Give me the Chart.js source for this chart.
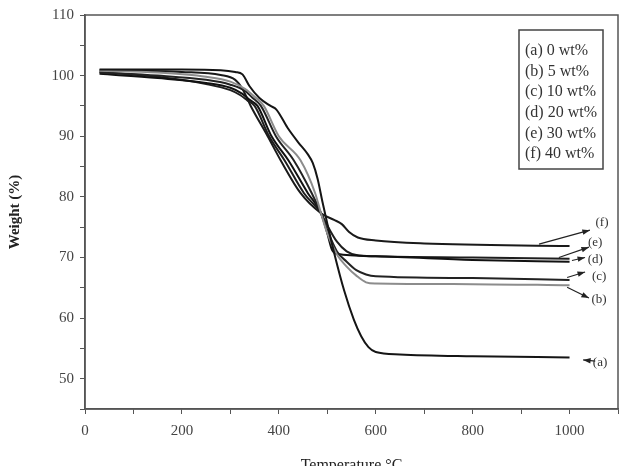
<!DOCTYPE html>
<html>
<head>
<meta charset="utf-8">
<script src="https://cdn.jsdelivr.net/npm/chart.js@4/dist/chart.umd.min.js"></script>
<style>
  html, body { margin: 0; padding: 0; background: #fff; overflow: hidden; }
  #wrap { width: 626px; height: 478px; position: relative; }
</style>
</head>
<body>
<div id="wrap"><canvas id="tga"></canvas></div>
<script>
// series labels
const labels = ['(a) 0 wt%', '(b) 5 wt%', '(c) 10 wt%', '(d) 20 wt%', '(e) 30 wt%', '(f) 40 wt%'];
const tags = ['(a)', '(b)', '(c)', '(d)', '(e)', '(f)'];

// temperature (°C) / weight (%)
const tempA = [30, 100, 200, 280, 310, 325, 340, 360, 383, 395, 418, 440, 460, 470, 480, 490, 500, 515, 535, 555, 570, 585, 600, 650, 800, 1000];
const wA    = [101.0, 101.0, 101.0, 100.9, 100.6, 100.2, 98.2, 96.3, 95.0, 94.4, 91.4, 89.0, 87.0, 85.6, 83.0, 79.2, 75.6, 70.5, 64.5, 59.7, 57.0, 55.2, 54.4, 54.0, 53.7, 53.5];

const tempB = [30, 150, 250, 300, 330, 350, 369, 400, 445, 475, 487, 500, 520, 540, 560, 580, 600, 800, 1000];
const wB    = [100.8, 100.5, 99.8, 99.0, 97.8, 96.5, 95.0, 90.0, 86.0, 80.6, 77.3, 74.0, 70.5, 68.5, 67.0, 65.9, 65.7, 65.6, 65.4];

const tempC = [30, 150, 250, 300, 330, 345, 363, 394, 431, 468, 487, 500, 520, 540, 560, 580, 600, 800, 1000];
const wC    = [100.5, 100.0, 99.3, 98.5, 97.5, 96.4, 95.0, 90.0, 86.0, 80.6, 77.3, 74.5, 71.0, 69.3, 67.9, 67.2, 66.9, 66.6, 66.3];

const tempD = [30, 150, 250, 300, 325, 340, 356, 385, 420, 460, 487, 500, 510, 520, 600, 800, 1000];
const wD    = [100.3, 99.6, 98.8, 98.0, 97.0, 96.0, 95.0, 90.0, 86.0, 80.6, 77.3, 74.0, 71.2, 70.6, 70.2, 69.6, 69.3];

const tempE = [30, 150, 250, 300, 320, 335, 350, 380, 412, 452, 487, 500, 520, 540, 560, 600, 800, 1000];
const wE    = [100.6, 99.8, 98.6, 97.6, 96.8, 95.9, 95.0, 90.0, 86.0, 80.6, 77.3, 75.3, 72.6, 71.0, 70.4, 70.2, 70.0, 69.8];

const tempF = [30, 200, 280, 310, 325, 342, 377, 404, 445, 487, 514, 530, 545, 563, 600, 700, 1000];
const wF    = [100.9, 100.6, 100.1, 99.3, 97.8, 95.0, 90.0, 86.0, 80.6, 77.3, 76.2, 75.5, 74.2, 73.3, 72.8, 72.3, 71.9];

const temps = [tempA, tempB, tempC, tempD, tempE, tempF];
const weights = [wA, wB, wC, wD, wE, wF];
const colors = ['#151515', '#8c8c8c', '#222222', '#111111', '#1e1e1e', '#1a1a1a'];

// arrows from curve ends to the (a)...(f) tags, in data units: [tailT, tailW, headT, headW, tagT, tagW]
const arrows = [
  [1053, 52.9, 1028, 53.1, 1063, 52.6],
  [995, 65.1, 1040, 63.3, 1061, 63.0],
  [995, 66.7, 1032, 67.6, 1061, 66.8],
  [1005, 69.5, 1032, 70.0, 1053, 69.7],
  [978, 70.0, 1040, 71.7, 1053, 72.5],
  [937, 72.2, 1042, 74.5, 1067, 75.8]
];

const FONT = '"Liberation Serif", "DejaVu Serif", serif';

const frameAndNotes = {
  id: 'frameAndNotes',
  afterDraw(chart) {
    const { ctx, chartArea: a, scales: { x, y } } = chart;
    ctx.save();
    ctx.strokeStyle = '#555';
    ctx.lineWidth = 1.5;
    ctx.strokeRect(a.left, a.top, a.right - a.left, a.bottom - a.top);

    // legend box
    const bx = a.right - 99, by = a.top + 15, bw = 84, bh = 139;
    ctx.strokeStyle = '#444';
    ctx.lineWidth = 1.5;
    ctx.strokeRect(bx, by, bw, bh);
    ctx.fillStyle = '#333';
    ctx.font = '16px ' + FONT;
    ctx.textBaseline = 'middle';
    ctx.textAlign = 'left';
    labels.forEach((l, i) => ctx.fillText(l, bx + 6, by + 21 + i * 20.6));

    // arrows + tags
    ctx.strokeStyle = '#222';
    ctx.fillStyle = '#222';
    ctx.lineWidth = 1.2;
    ctx.font = '13px ' + FONT;
    arrows.forEach((ar, i) => {
      const x1 = x.getPixelForValue(ar[0]), y1 = y.getPixelForValue(ar[1]);
      const x2 = x.getPixelForValue(ar[2]), y2 = y.getPixelForValue(ar[3]);
      ctx.beginPath();
      ctx.moveTo(x1, y1);
      ctx.lineTo(x2, y2);
      ctx.stroke();
      const ang = Math.atan2(y2 - y1, x2 - x1);
      ctx.beginPath();
      ctx.moveTo(x2, y2);
      ctx.lineTo(x2 - 8 * Math.cos(ang - 0.35), y2 - 8 * Math.sin(ang - 0.35));
      ctx.lineTo(x2 - 8 * Math.cos(ang + 0.35), y2 - 8 * Math.sin(ang + 0.35));
      ctx.closePath();
      ctx.fill();
      ctx.fillStyle = '#333';
      ctx.textAlign = 'center';
      ctx.fillText(tags[i], x.getPixelForValue(ar[4]), y.getPixelForValue(ar[5]));
      ctx.fillStyle = '#222';
    });
    ctx.restore();
  }
};

new Chart(document.getElementById('tga').getContext('2d'), {
  type: 'line',
  data: {
    datasets: labels.map((l, i) => ({
      label: l,
      data: temps[i].map((t, j) => ({ x: t, y: weights[i][j] })),
      borderColor: colors[i],
      borderWidth: 2,
      pointRadius: 0,
      fill: false,
      cubicInterpolationMode: 'monotone'
    }))
  },
  options: {
    responsive: true,
    maintainAspectRatio: false,
    animation: false,
    layout: { padding: { top: 14, right: 8, left: 0, bottom: 0 } },
    plugins: { legend: { display: false }, tooltip: { enabled: false } },
    scales: {
      x: {
        type: 'linear',
        min: 0,
        max: 1100,
        afterFit: s => { s.height = 69; },
        border: { color: '#555', width: 1.5 },
        grid: { drawOnChartArea: false, color: '#555', tickLength: 5 },
        ticks: {
          stepSize: 100,
          padding: 8,
          color: '#444',
          font: { family: FONT, size: 15 },
          maxRotation: 0,
          callback: v => (v % 200 === 0 && v <= 1000) ? String(v) : ''
        },
        title: {
          display: true,
          text: 'Temperature °C',
          color: '#222',
          font: { family: FONT, size: 16 },
          padding: { top: 0, bottom: 3 }
        }
      },
      y: {
        min: 45,
        max: 110,
        afterFit: s => { s.width = 85; },
        border: { color: '#555', width: 1.5 },
        grid: { drawOnChartArea: false, color: '#555', tickLength: 5 },
        ticks: {
          stepSize: 5,
          padding: 6,
          color: '#444',
          font: { family: FONT, size: 15 },
          callback: v => (v % 10 === 0) ? String(v) : ''
        },
        title: {
          display: true,
          text: 'Weight (%)',
          color: '#222',
          font: { family: FONT, size: 15, weight: 'bold' },
          padding: { top: 6, bottom: 0 }
        }
      }
    }
  },
  plugins: [frameAndNotes]
});
</script>
</body>
</html>
